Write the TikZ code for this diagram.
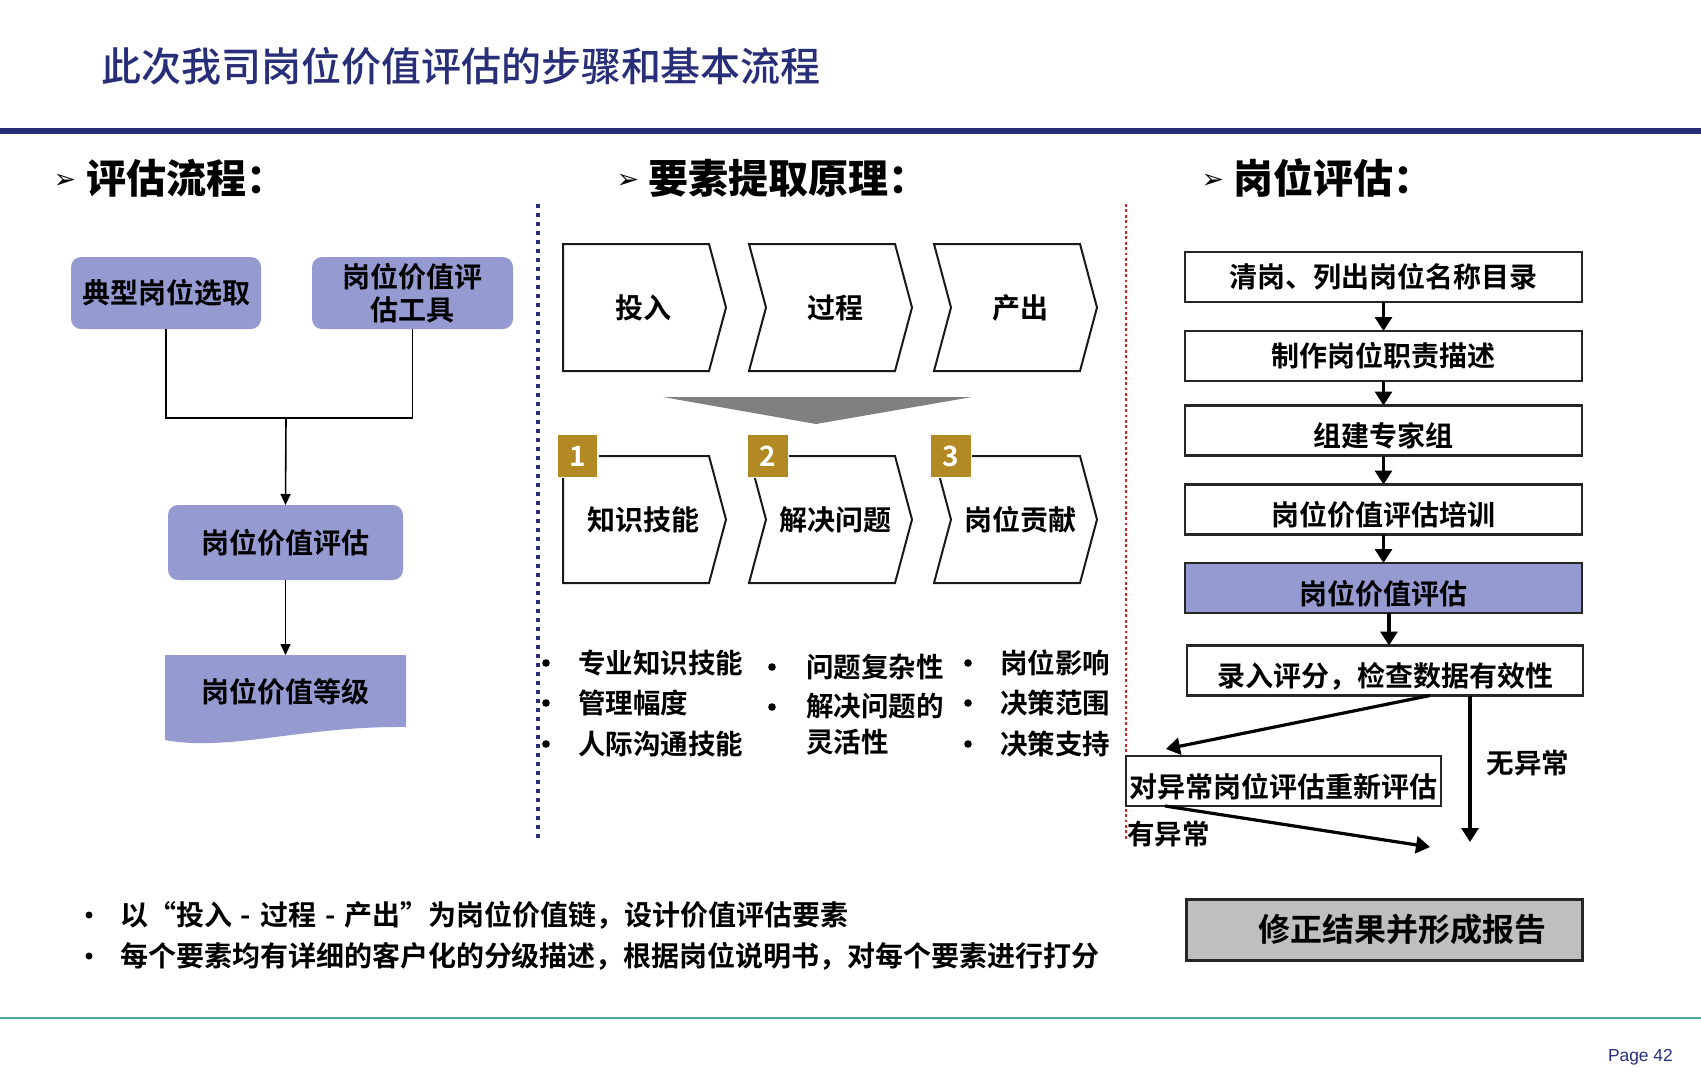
\documentclass[tikz,border=0pt]{standalone}
\usepackage{fontspec}
\setmainfont{Noto Sans CJK SC}[BoldFont={Noto Sans CJK SC Bold}]
\newfontfamily\heavyfont{Noto Sans CJK SC Black}
\newfontfamily\titlefont{Noto Sans CJK SC Medium}
\newfontfamily\dingfont{DejaVu Sans}
\newfontfamily\pagefont{Liberation Sans}
\usetikzlibrary{arrows.meta,positioning,calc}

\definecolor{navy}{RGB}{40,47,120}
\definecolor{lavender}{RGB}{149,154,208}
\definecolor{gold}{RGB}{178,137,34}
\definecolor{septeal}{RGB}{72,166,164}
\definecolor{dotred}{RGB}{218,32,32}
\definecolor{boxgray}{RGB}{191,191,191}

\begin{document}
\begin{tikzpicture}[x=1pt,y=-1pt,line join=miter,
	every node/.style={inner sep=0pt,outer sep=0pt},
	head/.style={anchor=west,font=\heavyfont\fontsize{40}{48}\selectfont},
	headmark/.style={font=\dingfont\fontsize{27}{32}\selectfont},
	lavbox/.style={fill=lavender,rounded corners=10pt,align=center,font=\bfseries\fontsize{28}{33}\selectfont},
	flowline/.style={line width=1.6pt},
	flowarrow/.style={line width=1.6pt,-{Triangle[width=10pt,length=11pt]}},
	chev/.style={draw=black!90,line width=2pt},
	chevtext/.style={font=\bfseries\fontsize{28}{33}\selectfont},
	numbox/.style={fill=gold,draw=white,line width=1.5pt,minimum width=41pt,minimum height=43pt,text=white,font=\bfseries\fontsize{28}{33}\selectfont},
	item/.style={anchor=west,align=left,font=\bfseries\fontsize{27.5}{36}\selectfont},
	stepbox/.style={draw=black!85,line width=2.5pt,minimum width=397pt,minimum height=50pt,font=\bfseries\fontsize{28}{33}\selectfont},
	lowtext/.style={text height=36pt,text depth=3.4pt},
	steparrow/.style={line width=3.2pt,-{Triangle[width=17pt,length=14pt]}},
	note/.style={anchor=west,font=\bfseries\fontsize{28}{34}\selectfont}]
	\useasboundingbox (0,0) rectangle (1701,1080);
	\fill[white] (0,0) rectangle (1701,1080);
	% title and rules
	\node[anchor=west,text=navy,font=\titlefont\fontsize{40}{48}\selectfont] (title) at (101,66) {此次我司岗位价值评估的步骤和基本流程};
	\draw[navy,line width=5.3pt] (0,131) -- (1701,131);
	\draw[septeal,line width=2pt] (0,1018) -- (1701,1018);
	\node[anchor=west,text=navy,font=\pagefont\fontsize{17.4}{20}\selectfont] (page) at (1608,1057) {Page 42};
	% section heads
	\node[headmark] (m1) at (65,181) {➢};
	\node[head] (h1) at (86,178) {评估流程：};
	\node[headmark] (m2) at (628,181) {➢};
	\node[head] (h2) at (648,178) {要素提取原理：};
	\node[headmark] (m3) at (1213,181) {➢};
	\node[head] (h3) at (1233,178) {岗位评估：};
	\draw[navy,line width=4pt,dash pattern=on 4pt off 5pt] (538,204) -- (538,839);
	\draw[dotred,line width=2.7pt,dash pattern=on 2.7pt off 2.7pt] (1126,204) -- (1126,840);

	% left: evaluation flow
	\node[lavbox,minimum width=190pt,minimum height=72pt] (pick) at (166,293) {典型岗位选取};
	\node[lavbox,minimum width=201pt,minimum height=72pt] (tool) at (412.5,293) {岗位价值评\\估工具};
	\node[lavbox,minimum width=235pt,minimum height=75pt] (eval) at (285.5,542.5) {岗位价值评估};
	\coordinate (join) at (286,418);
	\coordinate (gradetop) at (285.5,655);
	\draw[flowline] (pick.south) |- (join) -| (tool.south);
	\draw[flowarrow] (join) -- (eval.north);
	\fill[lavender] (165,655) -- (406,655) -- (406,727) .. controls (300,726) and (230,752) .. (165,740) -- cycle;
	\node[chevtext] (grade) at (285.5,692) {岗位价值等级};
	\draw[flowarrow] (eval.south) -- (gradetop);

	% middle: input - process - output
	\foreach \xl/\txt [count=\i] in {563/投入,749/过程,934/产出}{
		\ifnum\i=1 \def\notch{0}\else\def\notch{17}\fi
		\draw[chev] (\xl,244) -- ++(146,0) -- ++(17,63.5) -- ++(-17,63.5) -- ++(-146,0) -- ++(\notch,-63.5) -- cycle;
		\node[chevtext] (in\i) at ({\xl+80+\notch/2.5},307.5) {\txt};
	}
	\fill[black!50] (663,397) -- (972,397) -- (816,424) -- cycle;
	\foreach \xl/\txt/\nx [count=\i] in {563/知识技能/577.5,749/解决问题/768,934/岗位贡献/951}{
		\ifnum\i=1 \def\notch{0}\else\def\notch{17}\fi
		\draw[chev] (\xl,456) -- ++(146,0) -- ++(17,63.5) -- ++(-17,63.5) -- ++(-146,0) -- ++(\notch,-63.5) -- cycle;
		\node[chevtext] (fac\i) at ({\xl+80+\notch/2.5},519.5) {\txt};
		\node[numbox] (num\i) at (\nx,456) {\i};
	}
	% factor lists
	\foreach \y/\txt [count=\i] in {663/专业知识技能,703/管理幅度,744/人际沟通技能}{
		\fill (546,\y) circle (3.8);
		\node[item] (ka\i) at (578,\y) {\txt};
	}
	\foreach \y/\txt [count=\i] in {663/岗位影响,703/决策范围,744/决策支持}{
		\fill (968,\y) circle (3.8);
		\node[item] (kc\i) at (1000,\y) {\txt};
	}
	\fill (772,667) circle (3.8) (772,707) circle (3.8);
	\node[item] (kb1) at (806,667) {问题复杂性};
	\node[item,anchor=north west] (kb2) at (806,693) {解决问题的\\灵活性};

	% right: job evaluation steps
	\node[stepbox] (s1) at (1383.5,277) {清岗、列出岗位名称目录};
	\node[stepbox] (s2) at (1383.5,356) {制作岗位职责描述};
	\node[stepbox,lowtext] (s3) at (1383.5,430.5) {组建专家组};
	\node[stepbox,lowtext] (s4) at (1383.5,509.5) {岗位价值评估培训};
	\node[stepbox,lowtext,fill=lavender] (s5) at (1383.5,588) {岗位价值评估};
	\node[stepbox,lowtext,minimum width=396pt] (s6) at (1385,670.5) {录入评分，检查数据有效性};
	\node[stepbox,lowtext,minimum width=315pt] (s7) at (1283.5,781) {对异常岗位评估重新评估};
	\node[stepbox,fill=boxgray,line width=3pt,minimum width=396pt,minimum height=61pt,font=\bfseries\fontsize{32}{38}\selectfont] (s8) at (1384,929.5) {\hspace*{36pt}修正结果并形成报告};
	\foreach \a/\b in {s1/s2,s2/s3,s3/s4,s4/s5}
		\draw[steparrow] (\a.south) -- (\b.north);
	\coordinate (s5s) at ([xshift=5.5pt]s5.south);
	\draw[steparrow] (s5s) -- (s5s |- s6.north);
	\coordinate (fixa) at (1430,847);
	\coordinate (fixb) at (1470,842);
	\draw[steparrow] ([xshift=45pt]s6.south) -- ([xshift=40pt,yshift=7pt]s7.north west);
	\draw[steparrow] ([xshift=39pt]s7.south west) -- (fixa);
	\draw[steparrow] ([xshift=85pt]s6.south) -- (fixb);
	\node[font=\bfseries\fontsize{27.5}{33}\selectfont] (okay) at (1528,763) {无异常};
	\node[anchor=west,font=\bfseries\fontsize{27.5}{33}\selectfont] (fault) at (1127,834) {有异常};

	% notes
	\fill (89,915) circle (3.5) (89,956) circle (3.5);
	\node[note] (n1) at (120,915) {以“投入\hspace{9pt}-\hspace{9pt}过程\hspace{9pt}-\hspace{9pt}产出”为岗位价值链，设计价值评估要素};
	\node[note] (n2) at (120,956) {每个要素均有详细的客户化的分级描述，根据岗位说明书，对每个要素进行打分};
\end{tikzpicture}
\end{document}
